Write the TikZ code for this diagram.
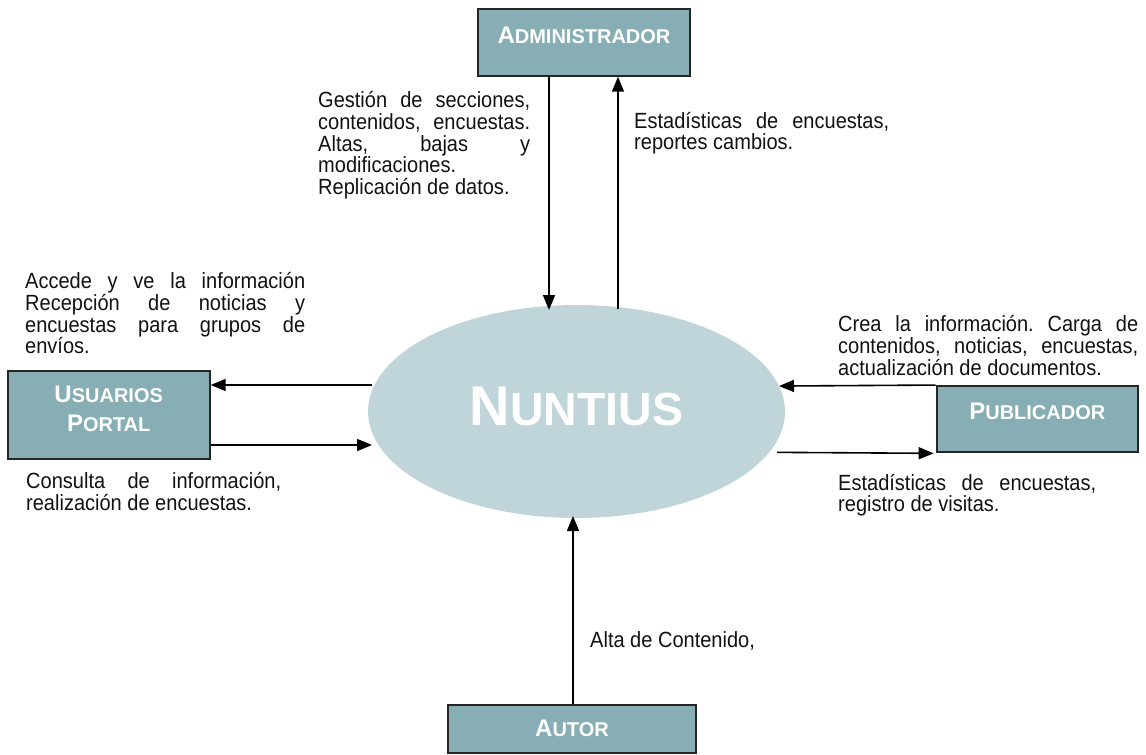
\documentclass[tikz,border=0pt]{standalone}
\usepackage{fontspec}
\setmainfont{Liberation Sans}
% slightly condensed face for the flow descriptions
\newfontfamily\notefont[FakeStretch=0.91]{Liberation Sans}
\usetikzlibrary{arrows.meta,shapes.geometric}

\definecolor{boxfill}{HTML}{86AEB4}
\definecolor{hubfill}{HTML}{C0D5D9}
\definecolor{ink}{HTML}{111111}

% synthetic small capitals: large initial, smaller rest
\newcommand\capword[2]{{\fontsize{24}{24}\selectfont #1}{\fontsize{20}{20}\selectfont #2}}
% one fully justified line of a note (natural, stretchable word spaces)
\newcommand\jline[1]{\makebox[\linewidth][s]{\spaceskip=0pt\xspaceskip=0pt\frenchspacing #1}}

\begin{document}
\begin{tikzpicture}[x=1pt,y=-1pt,
  actor/.style={draw=black!85, line width=2pt, fill=boxfill, text=white,
                font=\bfseries, inner sep=0pt},
  hub/.style={ellipse, fill=hubfill, draw=none, text=white, font=\bfseries, inner sep=0pt},
  flow/.style={line width=1.6pt, -{Triangle[length=15pt,width=12pt]}},
  note/.style={anchor=base west, inner sep=0pt, align=left,
               font=\notefont\fontsize{22}{21.8}\selectfont, text=ink,
               execute at begin node={\spaceskip=0pt\xspaceskip=0pt\frenchspacing}},
]
\useasboundingbox (0,0) rectangle (1146,755);

% central system
\node[hub, minimum width=417pt, minimum height=213pt, text height=35pt, text depth=8pt]
  (hub) at (576.5,411.5)
  {{\fontsize{56}{56}\selectfont N}{\fontsize{46.5}{46.5}\selectfont UNTIUS}};

% external actors
\node[actor, minimum width=211.4pt, minimum height=66.4pt, text height=16pt, text depth=15pt]
  (admin) at (584,42.5) {\capword{A}{DMINISTRADOR}};
\node[actor, minimum width=202pt, minimum height=88pt, text height=38pt, text depth=4.6pt,
      font=\bfseries\fontsize{20}{29}\selectfont]
  (usr) at (108.7,415)
  {\begin{tabular}[b]{@{}c@{}}\capword{U}{SUARIOS}\\\capword{P}{ORTAL}\end{tabular}};
\node[actor, minimum width=201.3pt, minimum height=66.3pt, text height=16pt, text depth=16pt]
  (pub) at (1037.3,419.2) {\capword{P}{UBLICADOR}};
\node[actor, minimum width=247.4pt, minimum height=48pt, text height=20pt, text depth=4.6pt]
  (aut) at (572,729) {\capword{A}{UTOR}};

% arrow ends near the hub
\coordinate (admDn) at (549,310);
\coordinate (admUp) at (618,309);
\coordinate (usrIn) at (372,385);
\coordinate (usrOut) at (372,445);
\coordinate (pubIn) at (779,386.05);
\coordinate (pubOut) at (777,452.35);
\coordinate (autIn) at (573,516);

% data flows
\draw[flow] (admin.south -| admDn) -- (admDn);
\draw[flow] (admUp) -- (admin.south -| admUp);
\draw[flow] (usrIn) -- (usr.east |- usrIn);
\draw[flow] (usr.east |- usrOut) -- (usrOut);
\draw[flow] (pub.north west) -- (pubIn);
\draw[flow, shorten >=2pt] (pubOut) -- (pub.south west);
\draw[flow] (aut.north -| autIn) -- (autIn);

% flow descriptions
\node[note, text width=212pt] (nAdmDn) at (318,107.5)
  {\jline{Gestión de secciones,}\\\jline{contenidos, encuestas.}\\\jline{Altas, bajas y}\\modificaciones.\\Replicación de datos.};
\node[note, text width=255pt] (nAdmUp) at (634,128)
  {\jline{Estadísticas de encuestas,}\\reportes cambios.};
\node[note, text width=280pt] (nUsrIn) at (25,288.5)
  {\jline{Accede y ve la información}\\\jline{Recepción de noticias y}\\\jline{encuestas para grupos de}\\envíos.};
\node[note, text width=255pt] (nUsrOut) at (26,488.5)
  {\jline{Consulta de información,}\\realización de encuestas.};
\node[note, text width=300pt] (nPubIn) at (838,331.7)
  {\jline{Crea la información. Carga de}\\\jline{contenidos, noticias, encuestas,}\\actualización de documentos.};
\node[note, text width=258pt] (nPubOut) at (838,490)
  {\jline{Estadísticas de encuestas,}\\registro de visitas.};
\node[note] (nAut) at (590,647) {Alta de Contenido,};
\end{tikzpicture}
\end{document}
